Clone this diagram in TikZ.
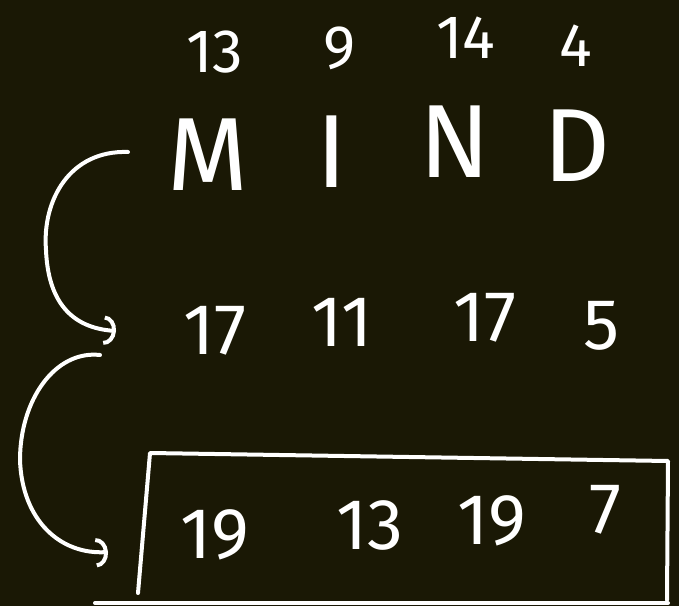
\documentclass[tikz,border=0pt]{standalone}
\usepackage{fontspec}
\setmainfont{Fira Sans}
\usetikzlibrary{arrows.meta}
\definecolor{board}{RGB}{26,24,5}
\newcommand{\topsz}{\fontsize{46}{50}\selectfont}
\newcommand{\wordsz}{\fontsize{78}{82}\selectfont}
\newcommand{\rowsz}{\fontsize{54}{58}\selectfont}
\tikzset{every picture/.style={line width=3pt}}
\tikzset{chalk/.style={color=white, line cap=round, line join=round}}
\tikzset{hand/.style={text=white, inner sep=0.75pt}}
\tikzset{hook/.style={-{Arc Barb[length=9pt,width=22pt]}}}

\begin{document}
\begin{tikzpicture}[x=0.75pt,y=0.75pt,yscale=-1,xscale=1]
\fill [board] (0,0) rectangle (679,606);
\useasboundingbox (0,0) rectangle (679,606);

% Text Node
\draw (215,52) node [hand, font=\topsz] (t13) {13};
% Text Node
\draw (340,48) node [hand, font=\topsz] (t9) {9};
% Text Node
\draw (466,38) node [hand, font=\topsz] (t14) {14};
% Text Node
\draw (576,46) node [hand, font=\topsz] (t4) {4};

% Text Node
\draw (208,155) node [hand, font=\wordsz] (wM) {M};
% Text Node
\draw (332,152) node [hand, font=\wordsz] (wI) {I};
% Text Node
\draw (455,142) node [hand, font=\wordsz] (wN) {N};
% Text Node
\draw (577,146) node [hand, font=\wordsz] (wD) {D};

% Text Node
\draw (215,331) node [hand, font=\rowsz] (s17a) {17};
% Text Node
\draw (342,322) node [hand, font=\rowsz] (s11) {11};
% Text Node
\draw (485,318) node [hand, font=\rowsz] (s17b) {17};
% Text Node
\draw (602,326) node [hand, font=\rowsz] (s5) {5};

% Text Node
\draw (215,535) node [hand, font=\rowsz] (r19a) {19};
% Text Node
\draw (370,525) node [hand, font=\rowsz] (r13) {13};
% Text Node
\draw (492,521) node [hand, font=\rowsz] (r19b) {19};
% Text Node
\draw (605,510) node [hand, font=\rowsz] (r7) {7};

%Straight Lines
\draw [chalk] (138,593) -- (150,453) -- (668,461) -- (667,600) ;
\draw [chalk] (95,603) -- (668,603) ;

%Curve Lines
\coordinate (a1) at (128,152);
\coordinate (b1) at (116,331);
\draw [chalk, hook] (a1) .. controls (70,150) and (42,200) .. (46,250) .. controls (48,300) and (70,328) .. (b1) ;
%Curve Lines
\coordinate (a2) at (100,355);
\coordinate (b2) at (108,552);
\draw [chalk, hook] (a2) .. controls (55,350) and (20,400) .. (20,460) .. controls (22,520) and (60,555) .. (b2) ;

\end{tikzpicture}
\end{document}
